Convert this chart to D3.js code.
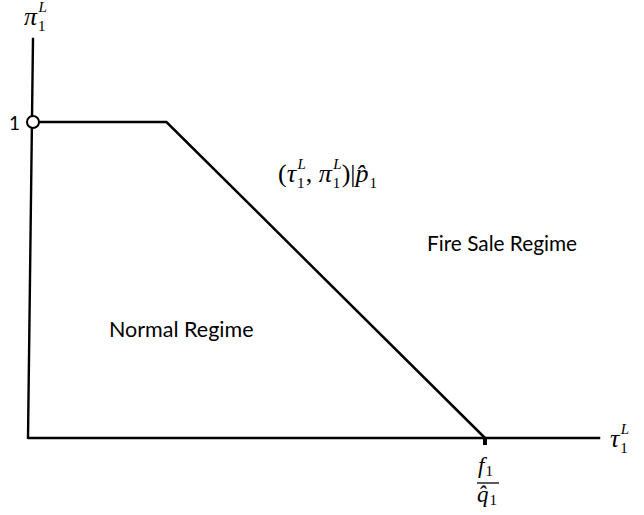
<!DOCTYPE html>
<html>
<head>
<meta charset="utf-8">
<script src="https://cdn.jsdelivr.net/npm/d3@7"></script>
<style>
  body { margin: 0; background: #fff; }
  .math { font-family: "Liberation Serif", "DejaVu Serif", serif; }
  .txt { font-family: Lato, "Open Sans", sans-serif; }
</style>
</head>
<body>
<div id="vis"></div>
<script>
// boundary between the two regimes, in (tau, pi) units
var boundaryTau = [0, 0.303, 1];
var boundaryPi = [1, 1, 0];
// axis extents
var axisTau = [0, 1.25];
var axisPi = [0, 1.27];
var regimeNames = ["Normal Regime", "Fire Sale Regime"];

var width = 644,
    height = 515;

var svg = d3.select("#vis").append("svg")
    .attr("width", width)
    .attr("height", height);

var x = d3.scaleLinear().domain([0, 1]).range([28, 485]);
var y = d3.scaleLinear().domain([0, 1]).range([438, 122]);

// axes (the vertical one leans a little, as in the sketch)
svg.append("line")
    .attr("x1", x(0)).attr("y1", y(0))
    .attr("x2", x(axisTau[1]) + 1).attr("y2", y(0))
    .attr("stroke", "#000").attr("stroke-width", 2.4);
svg.append("line")
    .attr("x1", x(0)).attr("y1", y(0) + 1)
    .attr("x2", x(0) + 5).attr("y2", y(axisPi[1]) + 1)
    .attr("stroke", "#000").attr("stroke-width", 2.4);

// boundary line
var pts = boundaryTau.map(function(t, i) { return [t, boundaryPi[i]]; });
svg.append("path")
    .datum(pts)
    .attr("d", d3.line()
        .x(function(d) { return d[0] === 0 ? x(0) + 5 : x(d[0]); })
        .y(function(d) { return y(d[1]); }))
    .attr("fill", "none")
    .attr("stroke", "#000")
    .attr("stroke-width", 2.5);

// open circle at pi = 1
svg.append("circle")
    .attr("cx", x(0) + 5).attr("cy", y(1))
    .attr("r", 6)
    .attr("fill", "#fff").attr("stroke", "#000").attr("stroke-width", 2);

// tick at f1/q1
svg.append("rect")
    .attr("x", x(1) - 2).attr("y", y(0) - 1)
    .attr("width", 4).attr("height", 8)
    .attr("fill", "#000");

// "1" on the vertical axis
svg.append("text").attr("class", "txt")
    .attr("x", 20).attr("y", 130)
    .attr("text-anchor", "end").attr("font-size", 19)
    .text("1");

var S = 26, s = 15;

// builds a math text out of pieces; each piece may carry a subscript
// and a superscript stacked on top of it
function mathText(px, py, size, pieces, subDrop) {
  var t = svg.append("text").attr("class", "math")
      .attr("x", px).attr("y", py).attr("font-size", size);
  var back = 0;
  pieces.forEach(function(p) {
    t.append("tspan")
        .attr("font-style", p.it ? "italic" : null)
        .attr("dy", back || null)
        .text(p.t);
    back = 0;
    if (p.sub) {
      t.append("tspan").attr("font-size", s).attr("dx", 1).attr("dy", subDrop).text(p.sub);
      back = -subDrop;
      if (p.sup) {
        t.append("tspan").attr("font-size", s).attr("font-style", "italic")
            .attr("dx", -7).attr("dy", -19).text(p.sup);
        back = 19 - subDrop;
      }
    }
  });
  return t;
}

// pi_1^L axis title
mathText(24, 25, S, [{t: "π", it: true, sub: "1", sup: "L"}], 6);

// tau_1^L axis title
mathText(610, 447, S, [{t: "τ", it: true, sub: "1", sup: "L"}], 6);

// curve label (tau_1^L, pi_1^L) | p^_1
mathText(278, 182, S, [
  {t: "("},
  {t: "τ", it: true, sub: "1", sup: "L"},
  {t: ", "},
  {t: "π", it: true, sub: "1", sup: "L"},
  {t: ")|"},
  {t: "p̂", it: true, sub: "1"}
], 6);

// fraction f1 / q^1 under the tick
var fx = x(1) + 3;
mathText(fx - 10, 473, 23, [{t: "f", it: true, sub: "1"}], 3);
svg.append("line")
    .attr("x1", fx - 11).attr("x2", fx + 11)
    .attr("y1", 483).attr("y2", 483)
    .attr("stroke", "#000").attr("stroke-width", 1.3);
mathText(fx - 11, 502, 23, [{t: "q̂", it: true, sub: "1"}], 3);

// regime labels
svg.append("text").attr("class", "txt")
    .attr("x", 109).attr("y", 337).attr("font-size", 21.5)
    .text(regimeNames[0]);
svg.append("text").attr("class", "txt")
    .attr("x", 427).attr("y", 251).attr("font-size", 20.8)
    .text(regimeNames[1]);
</script>
</body>
</html>
